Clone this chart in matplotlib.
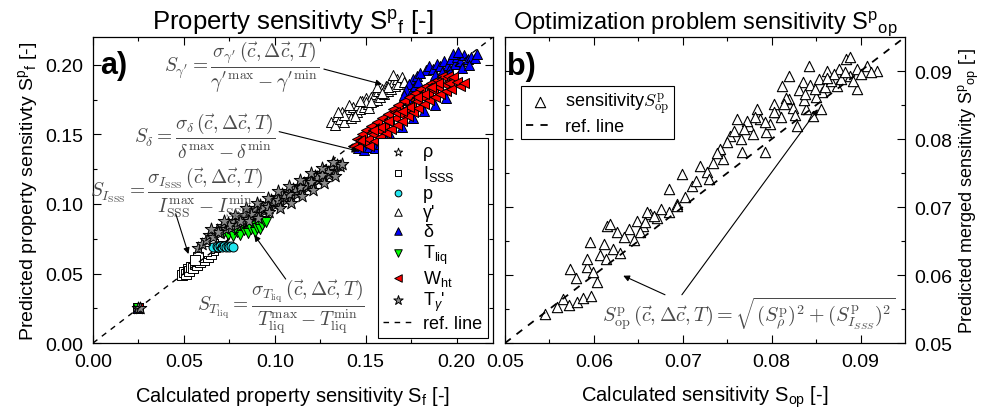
import matplotlib
matplotlib.use('Agg')
import matplotlib.pyplot as plt
import numpy as np

plt.rcParams['font.family'] = ['Liberation Sans', 'DejaVu Sans']
plt.rcParams['mathtext.fontset'] = 'custom'
plt.rcParams['mathtext.rm'] = 'Liberation Sans'
plt.rcParams['mathtext.it'] = 'Liberation Sans:italic'
plt.rcParams['mathtext.bf'] = 'Liberation Sans:bold'

# ---------------- panel a) data (calculated, predicted) ----------------
rho_x = [0.025, 0.051, 0.054, 0.057, 0.060, 0.063]
rho_y = [0.025, 0.051, 0.054, 0.057, 0.060, 0.063]

isss_x = [0.025, 0.049, 0.050, 0.051, 0.052, 0.053, 0.054, 0.055, 0.056, 0.057, 0.058, 0.059,
          0.060, 0.061, 0.062, 0.063, 0.064, 0.065, 0.066, 0.067, 0.068, 0.069, 0.070, 0.071,
          0.066, 0.064, 0.062, 0.058, 0.056]
isss_y = [0.025, 0.049, 0.051, 0.050, 0.053, 0.052, 0.055, 0.054, 0.057, 0.056, 0.059, 0.058,
          0.061, 0.060, 0.063, 0.062, 0.065, 0.064, 0.067, 0.069, 0.071, 0.073, 0.075, 0.077,
          0.071, 0.068, 0.066, 0.062, 0.060]

p_x = [0.066, 0.068, 0.069, 0.070, 0.071, 0.072, 0.073, 0.074, 0.075, 0.076, 0.077]
p_y = [0.069, 0.070, 0.069, 0.070, 0.069, 0.070, 0.069, 0.070, 0.069, 0.070, 0.069]

gam_x = [0.025, 0.131, 0.133, 0.134, 0.136, 0.137, 0.138, 0.140, 0.141, 0.142, 0.143, 0.145,
         0.146, 0.147, 0.148, 0.149, 0.150, 0.151, 0.152, 0.153, 0.154, 0.155, 0.156, 0.157,
         0.158, 0.159, 0.160, 0.161, 0.162, 0.163, 0.164, 0.165, 0.166, 0.167, 0.168, 0.170,
         0.171, 0.138, 0.144, 0.150, 0.156, 0.162, 0.135, 0.141, 0.147, 0.153, 0.159, 0.165]
gam_y = [0.025, 0.159, 0.157, 0.163, 0.161, 0.166, 0.159, 0.165, 0.168, 0.162, 0.170, 0.166,
         0.171, 0.168, 0.174, 0.170, 0.176, 0.172, 0.169, 0.177, 0.174, 0.179, 0.175, 0.181,
         0.177, 0.183, 0.179, 0.185, 0.181, 0.187, 0.183, 0.188, 0.185, 0.190, 0.186, 0.191,
         0.188, 0.164, 0.163, 0.173, 0.184, 0.184, 0.166, 0.171, 0.174, 0.173, 0.180, 0.193]

delta_x = [0.025, 0.183, 0.185, 0.187, 0.189, 0.191, 0.193, 0.195, 0.197, 0.199, 0.200, 0.202,
           0.204, 0.206, 0.208, 0.210, 0.211, 0.203, 0.207, 0.196, 0.188, 0.192, 0.198, 0.201,
           0.176, 0.178, 0.180, 0.174, 0.172, 0.171, 0.173, 0.175, 0.177, 0.179,
           0.146, 0.149, 0.152, 0.155, 0.158, 0.161, 0.164, 0.170, 0.176, 0.182, 0.188, 0.194]
delta_y = [0.025, 0.196, 0.199, 0.197, 0.201, 0.199, 0.203, 0.200, 0.204, 0.201, 0.206, 0.203,
           0.207, 0.204, 0.206, 0.205, 0.208, 0.198, 0.200, 0.196, 0.193, 0.195, 0.208, 0.209,
           0.190, 0.192, 0.194, 0.186, 0.182, 0.178, 0.175, 0.180, 0.185, 0.188,
           0.140, 0.139, 0.141, 0.140, 0.143, 0.146, 0.148, 0.155, 0.162, 0.167, 0.171, 0.176]

tliq_x = [0.025, 0.072, 0.074, 0.076, 0.077, 0.079, 0.080, 0.081, 0.083, 0.084, 0.085, 0.087,
          0.088, 0.089, 0.090, 0.091, 0.092, 0.093, 0.094, 0.095, 0.082, 0.078]
tliq_y = [0.025, 0.080, 0.078, 0.081, 0.077, 0.080, 0.083, 0.078, 0.081, 0.084, 0.079, 0.082,
          0.085, 0.080, 0.083, 0.086, 0.082, 0.085, 0.088, 0.087, 0.086, 0.083]

wht_x = [0.025, 0.143, 0.145, 0.146, 0.148, 0.149, 0.150, 0.151, 0.152, 0.153, 0.154, 0.155,
         0.156, 0.157, 0.158, 0.159, 0.160, 0.161, 0.162, 0.163, 0.164, 0.165, 0.166, 0.167,
         0.168, 0.169, 0.170, 0.171, 0.172, 0.173, 0.174, 0.175, 0.176, 0.177, 0.178, 0.179,
         0.180, 0.181, 0.182, 0.183, 0.184, 0.185, 0.186, 0.187, 0.188, 0.189, 0.190, 0.191,
         0.192, 0.193, 0.194, 0.195, 0.196, 0.197, 0.198, 0.200, 0.202, 0.204, 0.158, 0.166,
         0.174, 0.182, 0.190, 0.170, 0.178, 0.186, 0.162, 0.154, 0.147]
wht_y = [0.025, 0.142, 0.147, 0.141, 0.150, 0.144, 0.153, 0.147, 0.142, 0.156, 0.150, 0.145,
         0.159, 0.153, 0.148, 0.162, 0.156, 0.151, 0.165, 0.159, 0.154, 0.168, 0.162, 0.157,
         0.171, 0.165, 0.160, 0.174, 0.168, 0.163, 0.177, 0.171, 0.166, 0.180, 0.174, 0.169,
         0.183, 0.177, 0.172, 0.185, 0.180, 0.175, 0.187, 0.182, 0.177, 0.189, 0.184, 0.179,
         0.192, 0.186, 0.181, 0.192, 0.187, 0.183, 0.191, 0.188, 0.185, 0.187, 0.155, 0.166,
         0.170, 0.179, 0.187, 0.167, 0.177, 0.184, 0.160, 0.153, 0.146]

tgam_x = [0.025, 0.026, 0.058, 0.060, 0.062, 0.064, 0.066, 0.068, 0.070, 0.071, 0.073, 0.074,
          0.076, 0.077, 0.079, 0.080, 0.082, 0.083, 0.085, 0.086, 0.088, 0.089, 0.091, 0.092,
          0.094, 0.095, 0.097, 0.098, 0.100, 0.101, 0.103, 0.104, 0.106, 0.107, 0.109, 0.110,
          0.112, 0.113, 0.115, 0.116, 0.118, 0.119, 0.121, 0.122, 0.124, 0.125, 0.127, 0.128,
          0.130, 0.131, 0.133, 0.134, 0.136, 0.137, 0.087, 0.093, 0.099, 0.105, 0.111, 0.117,
          0.123, 0.129, 0.081, 0.075, 0.069, 0.096, 0.102, 0.108, 0.114, 0.120, 0.126,
          0.065, 0.072, 0.078, 0.084, 0.090, 0.096, 0.102, 0.108, 0.114, 0.120, 0.126, 0.132,
          0.086, 0.091, 0.097, 0.103, 0.109, 0.115, 0.121, 0.127, 0.133]
tgam_y = [0.025, 0.025, 0.068, 0.071, 0.074, 0.078, 0.076, 0.081, 0.079, 0.084, 0.082, 0.086,
          0.083, 0.088, 0.085, 0.090, 0.087, 0.092, 0.089, 0.095, 0.091, 0.097, 0.093, 0.099,
          0.095, 0.100, 0.097, 0.103, 0.099, 0.105, 0.101, 0.107, 0.103, 0.109, 0.105, 0.111,
          0.107, 0.113, 0.110, 0.115, 0.112, 0.118, 0.114, 0.120, 0.117, 0.122, 0.119, 0.124,
          0.121, 0.126, 0.124, 0.128, 0.127, 0.129, 0.093, 0.097, 0.101, 0.105, 0.109, 0.113,
          0.119, 0.123, 0.088, 0.085, 0.080, 0.098, 0.103, 0.107, 0.112, 0.116, 0.121,
          0.082, 0.088, 0.092, 0.097, 0.101, 0.104, 0.109, 0.113, 0.117, 0.122, 0.126, 0.130,
          0.088, 0.090, 0.094, 0.097, 0.101, 0.106, 0.110, 0.115, 0.120]

# ---------------- panel b) data ----------------
op_x = [0.0545, 0.0558, 0.0565, 0.0572, 0.0581, 0.0573, 0.0592, 0.0592, 0.0596, 0.0615,
        0.0618, 0.0626, 0.0607, 0.0614, 0.0622, 0.0629, 0.0599, 0.0588, 0.0597, 0.0640,
        0.0648, 0.0655, 0.0663, 0.0671, 0.0652, 0.0660, 0.0685, 0.0693, 0.0685, 0.0693,
        0.0699, 0.0710, 0.0719, 0.0727, 0.0730, 0.0742, 0.0745, 0.0753, 0.0767, 0.0761,
        0.0775, 0.0783, 0.0792, 0.0794, 0.0806, 0.0812, 0.0820, 0.0828, 0.0835, 0.0839,
        0.0846, 0.0856, 0.0842, 0.0857, 0.0862, 0.0873, 0.0884, 0.0888, 0.0896, 0.0896,
        0.0907, 0.0918, 0.0888, 0.0876, 0.0820, 0.0580, 0.0604, 0.0611, 0.0634, 0.0645,
        0.0657, 0.0668, 0.0676, 0.0702, 0.0715, 0.0734, 0.0738, 0.0750, 0.0758, 0.0765,
        0.0772, 0.0779, 0.0787, 0.0798, 0.0803, 0.0810, 0.0816, 0.0824, 0.0831, 0.0836,
        0.0843, 0.0850, 0.0853, 0.0860, 0.0867, 0.0870, 0.0878, 0.0882, 0.0891, 0.0901,
        0.0912, 0.0769, 0.0781, 0.0792, 0.0803, 0.0814, 0.0826, 0.0838, 0.0849, 0.0862]
op_y = [0.0543, 0.0553, 0.0565, 0.0556, 0.0560, 0.0609, 0.0612, 0.0624, 0.0649, 0.0672,
        0.0675, 0.0663, 0.0630, 0.0624, 0.0638, 0.0632, 0.0604, 0.0566, 0.0569, 0.0668,
        0.0680, 0.0672, 0.0690, 0.0684, 0.0663, 0.0693, 0.0693, 0.0704, 0.0726, 0.0701,
        0.0749, 0.0731, 0.0760, 0.0751, 0.0741, 0.0785, 0.0771, 0.0804, 0.0781, 0.0829,
        0.0819, 0.0844, 0.0781, 0.0810, 0.0840, 0.0878, 0.0859, 0.0819, 0.0884, 0.0844,
        0.0834, 0.0844, 0.0907, 0.0869, 0.0900, 0.0878, 0.0918, 0.0893, 0.0874, 0.0903,
        0.0907, 0.0900, 0.0921, 0.0903, 0.0893, 0.0596, 0.0590, 0.0646, 0.0656, 0.0651,
        0.0678, 0.0687, 0.0697, 0.0715, 0.0738, 0.0765, 0.0779, 0.0795, 0.0812, 0.0800,
        0.0826, 0.0808, 0.0830, 0.0822, 0.0852, 0.0833, 0.0861, 0.0845, 0.0872, 0.0857,
        0.0880, 0.0862, 0.0889, 0.0877, 0.0885, 0.0895, 0.0889, 0.0899, 0.0886, 0.0895,
        0.0898, 0.0815, 0.0832, 0.0825, 0.0840, 0.0851, 0.0836, 0.0866, 0.0873, 0.0890]

fig = plt.figure(figsize=(9.81, 4.14), dpi=100)
ax1 = fig.add_axes([0.0948, 0.169, 0.4077, 0.739])
ax2 = fig.add_axes([0.5148, 0.169, 0.4077, 0.739])

mk = dict(edgecolors='k', linewidths=0.7)
ax1.scatter(rho_x, rho_y, marker='*', s=70, facecolors='w', label='ρ', **mk)
ax1.scatter(isss_x, isss_y, marker='s', s=42, facecolors='w', label='I$_{\\rm SSS}$', **mk)
ax1.scatter(p_x, p_y, marker='o', s=42, facecolors='#22e5f0', label='p', **mk)
ax1.scatter(gam_x, gam_y, marker='^', s=52, facecolors='w', label="γ'", **mk)
ax1.scatter(delta_x, delta_y, marker='^', s=52, facecolors='#0000ff', label='δ', **mk)
ax1.scatter(tliq_x, tliq_y, marker='v', s=52, facecolors='#00ff00', label='T$_{\\rm liq}$', **mk)
ax1.scatter(wht_x, wht_y, marker='<', s=52, facecolors='#ff0000', label='W$_{\\rm ht}$', **mk)
ax1.scatter(tgam_x, tgam_y, marker='*', s=90, facecolors='#8a8a8a', label="T$_{\\gamma}$'", **mk)
ax1.plot([0, 0.22], [0, 0.22], 'k--', lw=1, dashes=(4, 4), label='ref. line')

ax1.set_xlim(0, 0.22)
ax1.set_ylim(0, 0.22)
ax1.set_xticks(np.arange(0, 0.21, 0.05))
ax1.set_yticks(np.arange(0, 0.21, 0.05))
ax1.set_xticks(np.arange(0.025, 0.22, 0.05), minor=True)
ax1.set_yticks(np.arange(0.025, 0.22, 0.05), minor=True)
ax1.xaxis.set_major_formatter(matplotlib.ticker.FormatStrFormatter('%.2f'))
ax1.yaxis.set_major_formatter(matplotlib.ticker.FormatStrFormatter('%.2f'))

leg1 = ax1.legend(loc='lower right', fontsize=13, fancybox=False, edgecolor='k',
                  framealpha=1, borderaxespad=0.3, handlelength=1.6, labelspacing=0.12,
                  handletextpad=0.6, borderpad=0.3, markerscale=0.75)
leg1.get_frame().set_linewidth(0.8)

ax1.set_title('Property sensitivty S$^{\\rm p}$$_{\\rm f}$ [-]', fontsize=18.5, pad=6)
ax1.set_xlabel('Calculated property sensitivity S$_{\\rm f}$ [-]', fontsize=14.5, labelpad=10)
ax1.set_ylabel('Predicted property sensitivty S$^{\\rm p}$$_{\\rm f}$ [-]', fontsize=14, labelpad=4)
ax1.text(0.018, 0.91, 'a)', transform=ax1.transAxes, fontsize=22, fontweight='bold', va='center')

fcol = '#4a4a4a'
arr = dict(arrowstyle='-|>', color='k', lw=0.8, mutation_scale=9, shrinkA=0, shrinkB=0)
ax1.annotate(r"$S_{\gamma'} = \dfrac{\sigma_{\gamma'}\,(\vec{c},\Delta\vec{c},T)}{\gamma'^{\max}-\gamma'^{\min}}$",
             xy=(0.159, 0.186), xytext=(0.0818, 0.1986), ha='center', va='center', fontsize=14,
             color=fcol, math_fontfamily='cm')
ax1.annotate('', xy=(0.159, 0.186), xytext=(0.127, 0.197), arrowprops=arr)
ax1.annotate(r"$S_{\delta} = \dfrac{\sigma_{\delta}\,(\vec{c},\Delta\vec{c},T)}{\delta^{\max}-\delta^{\min}}$",
             xy=(0.146, 0.138), xytext=(0.0613, 0.149), ha='center', va='center', fontsize=14,
             color=fcol, math_fontfamily='cm')
ax1.annotate('', xy=(0.146, 0.138), xytext=(0.1024, 0.152), arrowprops=arr)
ax1.annotate(r"$S_{I_{\rm SSS}} = \dfrac{\sigma_{I_{\rm SSS}}\,(\vec{c},\Delta\vec{c},T)}{I_{\rm SSS}^{\max}-I_{\rm SSS}^{\min}}$",
             xy=(0.0525, 0.064), xytext=(0.0465, 0.109), ha='center', va='center', fontsize=14,
             color=fcol, math_fontfamily='cm')
ax1.annotate('', xy=(0.0525, 0.064), xytext=(0.0455, 0.093), arrowprops=arr)
ax1.annotate(r"$S_{T_{\rm liq}} = \dfrac{\sigma_{T_{\rm liq}}\,(\vec{c},\Delta\vec{c},T)}{T_{\rm liq}^{\max}-T_{\rm liq}^{\min}}$",
             xy=(0.0887, 0.0777), xytext=(0.1035, 0.0266), ha='center', va='center', fontsize=14,
             color=fcol, math_fontfamily='cm')
ax1.annotate('', xy=(0.0887, 0.0777), xytext=(0.106, 0.046), arrowprops=arr)

# ---------------- panel b) ----------------
ax2.scatter(op_x, op_y, marker='^', s=55, facecolors='w', edgecolors='k', linewidths=0.8,
            label='sensitivity$S^{\\rm p}_{\\rm op}$')
ax2.plot([0.05, 0.095], [0.05, 0.095], 'k--', lw=1.3, dashes=(4, 4), label='ref. line')
ax2.set_xlim(0.05, 0.095)
ax2.set_ylim(0.05, 0.095)
ax2.set_xticks(np.arange(0.05, 0.0951, 0.01))
ax2.set_yticks(np.arange(0.05, 0.0951, 0.01))
ax2.set_xticks(np.arange(0.055, 0.095, 0.01), minor=True)
ax2.set_yticks(np.arange(0.055, 0.095, 0.01), minor=True)
ax2.xaxis.set_major_formatter(matplotlib.ticker.FormatStrFormatter('%.2f'))
ax2.yaxis.set_major_formatter(matplotlib.ticker.FormatStrFormatter('%.2f'))
ax2.yaxis.tick_right()
ax2.yaxis.set_label_position('right')
leg2 = ax2.legend(loc='upper left', bbox_to_anchor=(0.04, 0.84), fontsize=13, fancybox=False,
                  edgecolor='k', framealpha=1, handlelength=1.6, labelspacing=0.1,
                  handletextpad=0.6, borderpad=0.25, borderaxespad=0)
leg2.get_frame().set_linewidth(0.8)
leg2.get_texts()[0].set_math_fontfamily('cm')

ax2.set_title('Optimization problem sensitivity S$^{\\rm p}$$_{\\rm op}$', fontsize=17, pad=6)
ax2.set_xlabel('Calculated sensitivity S$_{\\rm op}$ [-]', fontsize=14.5, labelpad=10)
ax2.set_ylabel('Predicted merged sensitivity S$^{\\rm p}$$_{\\rm op}$ [-]', fontsize=13,
               rotation=90, labelpad=3)
ax2.text(0.005, 0.905, 'b)', transform=ax2.transAxes, fontsize=22, fontweight='bold', va='center')

ax2.annotate(r"$S^{\rm p}_{\rm op}\,(\vec{c},\Delta\vec{c},T) = \sqrt{(S^{\rm p}_{\rho})^2+(S^{\rm p}_{I_{SSS}})^2}$",
             xy=(0.0774, 0.0545), ha='center', va='center', fontsize=14.5, color=fcol,
             math_fontfamily='cm')
ax2.annotate('', xy=(0.0633, 0.0599), xytext=(0.0680, 0.0571), arrowprops=arr)
ax2.annotate('', xy=(0.0852, 0.0844), xytext=(0.0699, 0.0571), arrowprops=arr)

for ax in (ax1, ax2):
    ax.tick_params(which='both', direction='in', top=True, right=True, left=True,
                   bottom=True, labelsize=14, width=0.8)
    ax.tick_params(which='major', length=6, pad=7)
    ax.tick_params(which='minor', length=3)
    for sp in ax.spines.values():
        sp.set_linewidth(0.9)
ax2.tick_params(which='both', labelleft=False, labelright=True)

plt.savefig('out.png', dpi=100)
